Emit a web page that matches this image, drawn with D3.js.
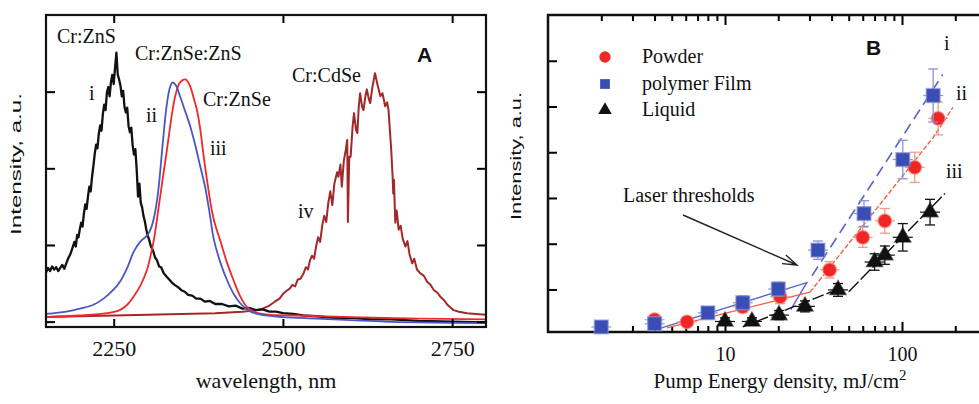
<!DOCTYPE html>
<html>
<head>
<meta charset="utf-8">
<script src="https://cdn.jsdelivr.net/npm/d3@7"></script>
<style>
body { margin: 0; background: #fff; }
svg { display: block; }
</style>
</head>
<body>
<div id="chart"></div>
<script>
// ---- panel A : emission spectra [wavelength nm, intensity a.u.] ----
var znsSpectrum = [[2150,.64],[2153,.70],[2156,.66],[2159,.72],[2162,.68],[2165,.71],[2168,.66],[2171,.70],[2174,.74],[2177,.69],[2180,.76],[2183,.83],[2186,.88],[2189,.96],[2192,1.04],[2194,.98],[2196,1.13],[2198,1.10],[2200,1.21],[2202,1.29],[2204,1.24],[2206,1.41],[2208,1.53],[2210,1.47],[2212,1.63],[2214,1.76],[2216,1.70],[2218,1.89],[2220,2.03],[2222,2.19],[2224,2.31],[2226,2.26],[2228,2.45],[2230,2.56],[2232,2.49],[2234,2.71],[2236,2.83],[2238,2.76],[2240,2.99],[2242,3.06],[2244,2.94],[2246,3.13],[2248,3.22],[2250,3.10],[2252,3.31],[2254,3.51],[2256,3.22],[2258,3.16],[2260,3.08],[2262,2.94],[2264,3.01],[2266,2.80],[2268,2.73],[2270,2.79],[2272,2.55],[2274,2.47],[2276,2.53],[2278,2.30],[2280,2.18],[2282,2.25],[2284,1.98],[2286,1.63],[2288,1.80],[2290,1.55],[2292,1.49],[2294,1.38],[2296,1.31],[2298,1.21],[2300,1.13],[2302,1.08],[2305,.98],[2308,.93],[2311,.84],[2314,.80],[2317,.72],[2320,.71],[2324,.63],[2328,.59],[2332,.55],[2336,.51],[2340,.48],[2345,.45],[2350,.41],[2355,.39],[2360,.35],[2366,.34],[2372,.30],[2378,.30],[2385,.26],[2392,.27],[2400,.23],[2410,.23],[2420,.20],[2430,.21],[2440,.17],[2450,.18],[2460,.15],[2470,.16],[2480,.13],[2490,.13],[2500,.11],[2515,.10],[2530,.08],[2550,.07],[2575,.05],[2600,.05],[2630,.03],[2660,.03],[2700,.01],[2750,.00],[2800,-.01]];

var znseznsSpectrum = [[2150,.10],[2180,.13],[2200,.17],[2220,.22],[2235,.30],[2250,.42],[2260,.53],[2270,.70],[2280,.92],[2290,1.05],[2300,1.13],[2306,1.24],[2311,1.42],[2316,1.72],[2322,2.28],[2328,2.80],[2333,3.05],[2337,3.12],[2342,3.08],[2348,2.94],[2355,2.76],[2363,2.55],[2370,2.32],[2378,2.02],[2385,1.76],[2392,1.40],[2398,1.07],[2408,.76],[2418,.53],[2428,.35],[2437,.24],[2450,.14],[2467,.09],[2500,.06],[2550,.04],[2600,.02],[2650,.00],[2700,-.01],[2800,-.02]];

var znseSpectrum = [[2150,.06],[2200,.08],[2240,.11],[2259,.15],[2270,.22],[2279,.32],[2290,.48],[2299,.67],[2305,.88],[2310,1.10],[2318,1.59],[2323,1.90],[2328,2.20],[2333,2.52],[2337,2.76],[2342,2.98],[2348,3.12],[2356,3.16],[2363,3.07],[2368,2.92],[2373,2.76],[2378,2.50],[2382,2.22],[2386,1.96],[2390,1.72],[2395,1.45],[2400,1.26],[2407,1.07],[2417,.78],[2427,.54],[2437,.33],[2447,.19],[2460,.12],[2477,.09],[2520,.08],[2600,.06],[2700,.04],[2800,.03]];

var cdseSpectrum = [[2150,.06],[2200,.07],[2250,.08],[2300,.09],[2350,.10],[2400,.11],[2440,.13],[2460,.15],[2470,.17],[2480,.21],[2488,.26],[2495,.30],[2500,.36],[2505,.40],[2510,.43],[2514,.48],[2518,.46],[2522,.55],[2526,.56],[2530,.62],[2534,.71],[2537,.68],[2540,.80],[2543,.86],[2546,.82],[2549,.98],[2552,1.10],[2555,1.04],[2558,1.25],[2561,1.38],[2564,1.30],[2567,1.55],[2570,1.70],[2573,1.52],[2576,1.80],[2580,1.95],[2582,1.89],[2585,2.05],[2587,1.76],[2590,2.10],[2593,2.25],[2595,2.37],[2596,1.30],[2598,2.15],[2600,2.15],[2603,2.55],[2605,2.72],[2608,2.50],[2610,2.46],[2612,2.80],[2614,2.98],[2617,2.80],[2619,2.76],[2622,2.95],[2624,3.03],[2627,2.90],[2629,2.85],[2632,3.05],[2636,3.24],[2640,3.08],[2644,2.94],[2647,2.98],[2649,2.90],[2651,2.81],[2654,2.86],[2656,2.76],[2658,2.50],[2660,2.24],[2662,1.90],[2663,1.67],[2664,1.85],[2666,1.29],[2668,1.45],[2671,1.20],[2674,1.25],[2677,1.08],[2681,.98],[2684,1.05],[2687,.88],[2691,.76],[2694,.82],[2698,.68],[2703,.63],[2708,.60],[2713,.52],[2718,.48],[2723,.41],[2728,.38],[2733,.32],[2738,.28],[2743,.22],[2748,.18],[2752,.15],[2760,.13],[2772,.11],[2785,.10],[2800,.09]];

var waveTicks = [2250, 2500, 2750];
var intensityTicksA = [0, 1, 2, 3];

// ---- panel B : output vs pump energy ----
var powderE   = [4, 6.1, 12.6, 20.5, 39, 60, 80, 118, 160];
var powderI   = [0.34, 0.29, 0.62, 0.84, 1.43, 2.14, 2.5, 3.67, 4.74];
var powderErr = [0.1, 0.1, 0.12, 0.15, 0.18, 0.22, 0.27, 0.33, 0.36];

var filmE   = [2, 4, 8, 12.6, 20, 33.5, 61, 101, 150];
var filmI   = [0.18, 0.25, 0.49, 0.71, 1.01, 1.86, 2.66, 3.84, 5.24];
var filmErr = [0.1, 0.1, 0.12, 0.15, 0.15, 0.2, 0.28, 0.42, 0.58];

var liquidE   = [10, 14.2, 20.2, 28.3, 43.5, 70, 80, 101, 144];
var liquidI   = [0.3, 0.3, 0.44, 0.63, 0.99, 1.6, 1.75, 2.14, 2.69];
var liquidErr = [0.08, 0.08, 0.1, 0.12, 0.14, 0.18, 0.2, 0.3, 0.28];

// threshold guide lines [energy, intensity]
var filmBelow   = [[4.2, 0.14], [29, 1.15], [23.5, 0.56]];
var filmAbove   = [[31, 1.3], [170, 5.7]];
var powderBelow = [[4.7, 0.16], [30.2, 0.94]];
var powderAbove = [[30.2, 0.94], [150, 4.32], [194, 4.98]];
var liquidBelow = [[12.6, 0.18], [40, 0.95]];
var liquidAbove = [[50, 0.95], [175, 3.1]];

var energyMajor = [10, 100];
var intensityTicksB = [1, 2, 3, 4, 5, 6];

var width = 979, height = 404;
var serifFont = 'Liberation Serif, Times New Roman, Times, DejaVu Serif, serif';
var sansFont = 'Liberation Sans, Arial, Helvetica, sans-serif';

var svg = d3.select('#chart').append('svg')
    .attr('width', width)
    .attr('height', height)
    .style('background', '#fff');

// ================= panel A =================
var xA = d3.scaleLinear().domain([2150, 2800]).range([46, 486]);
var yA = d3.scaleLinear().domain([-0.07, 4]).range([327, 15]);

var gA = svg.append('g');

gA.append('clipPath').attr('id', 'clipA')
    .append('rect')
    .attr('x', xA.range()[0]).attr('y', yA.range()[1])
    .attr('width', xA.range()[1] - xA.range()[0])
    .attr('height', yA.range()[0] - yA.range()[1]);

var lineA = d3.line().x(d => xA(d[0])).y(d => yA(d[1]));
var smoothA = d3.line().x(d => xA(d[0])).y(d => yA(d[1])).curve(d3.curveCatmullRom);

var spectra = [
    {data: cdseSpectrum, color: '#a3282a', w: 2, gen: lineA},
    {data: znsSpectrum, color: '#111', w: 2.3, gen: lineA},
    {data: znseSpectrum, color: '#f0282a', w: 1.8, gen: smoothA},
    {data: znseznsSpectrum, color: '#4a55c6', w: 1.8, gen: smoothA}
];

gA.append('g').attr('clip-path', 'url(#clipA)')
    .selectAll('path').data(spectra).enter()
    .append('path')
    .attr('d', s => s.gen(s.data))
    .attr('fill', 'none')
    .attr('stroke', s => s.color)
    .attr('stroke-width', s => s.w)
    .attr('stroke-linejoin', 'round');

// ticks (inward) on all four sides
gA.append('g').attr('transform', `translate(0,${yA.range()[0]})`)
    .call(d3.axisBottom(xA).tickValues(waveTicks).tickSizeInner(-8).tickSizeOuter(0).tickPadding(13).tickFormat(d3.format('d')))
    .call(g => g.select('.domain').remove())
    .call(g => g.selectAll('line').attr('stroke-width', 2))
    .call(g => g.selectAll('text').attr('fill', '#111')
        .style('font-family', serifFont).style('font-size', '22px'));
gA.append('g').attr('transform', `translate(0,${yA.range()[1]})`)
    .call(d3.axisTop(xA).tickValues(waveTicks).tickSizeInner(-8).tickSizeOuter(0).tickFormat(''))
    .call(g => g.select('.domain').remove())
    .call(g => g.selectAll('line').attr('stroke-width', 2));
gA.append('g').attr('transform', `translate(${xA.range()[0]},0)`)
    .call(d3.axisLeft(yA).tickValues(intensityTicksA).tickSizeInner(-9).tickSizeOuter(0).tickFormat(''))
    .call(g => g.select('.domain').remove())
    .call(g => g.selectAll('line').attr('stroke-width', 2));
gA.append('g').attr('transform', `translate(${xA.range()[1]},0)`)
    .call(d3.axisRight(yA).tickValues(intensityTicksA).tickSizeInner(-9).tickSizeOuter(0).tickFormat(''))
    .call(g => g.select('.domain').remove())
    .call(g => g.selectAll('line').attr('stroke-width', 2));

gA.append('rect')
    .attr('x', xA.range()[0]).attr('y', yA.range()[1])
    .attr('width', xA.range()[1] - xA.range()[0])
    .attr('height', yA.range()[0] - yA.range()[1])
    .attr('fill', 'none').attr('stroke', '#111').attr('stroke-width', 2.2);

gA.append('text')
    .attr('x', 266).attr('y', 388)
    .attr('text-anchor', 'middle').attr('fill', '#111')
    .style('font-family', serifFont).style('font-size', '22px')
    .text('wavelength, nm');

gA.append('text')
    .attr('transform', 'translate(21,164)rotate(-90)')
    .attr('text-anchor', 'middle').attr('fill', '#111')
    .style('font-family', sansFont).style('font-size', '15px')
    .attr('textLength', 142).attr('lengthAdjust', 'spacingAndGlyphs')
    .text('Intensity, a.u.');

var labelsA = [
    {t: 'Cr:ZnS', x: 57, y: 43},
    {t: 'Cr:ZnSe:ZnS', x: 135, y: 60},
    {t: 'Cr:ZnSe', x: 203, y: 106},
    {t: 'Cr:CdSe', x: 292, y: 82},
    {t: 'i', x: 89, y: 100},
    {t: 'ii', x: 146, y: 122},
    {t: 'iii', x: 210, y: 155},
    {t: 'iv', x: 298, y: 218}
];
gA.selectAll('text.lab').data(labelsA).enter()
    .append('text').attr('class', 'lab')
    .attr('x', d => d.x).attr('y', d => d.y)
    .attr('fill', '#111')
    .style('font-family', serifFont).style('font-size', '20px')
    .text(d => d.t);

gA.append('text')
    .attr('x', 417).attr('y', 62)
    .attr('font-weight', 'bold').attr('fill', '#111')
    .style('font-family', sansFont).style('font-size', '21px')
    .text('A');

// ================= panel B =================
var xB = d3.scaleLog().domain([1, 1000]).range([548, 1079]);
var yB = d3.scaleLinear().domain([0.07, 7]).range([332, 15]);

var gB = svg.append('g');

var minorE = [];
[1, 10, 100].forEach(function (dec) {
    for (var k = 2; k <= 9; k++) minorE.push(dec * k);
});

function tickRow(y, dir) {
    var axisFn = dir > 0 ? d3.axisBottom : d3.axisTop;
    gB.append('g').attr('transform', `translate(0,${y})`)
        .call(axisFn(xB).tickValues(minorE).tickSizeInner(-6).tickSizeOuter(0).tickFormat(''))
        .call(g => g.select('.domain').remove())
        .call(g => g.selectAll('line').attr('stroke-width', 2));
    gB.append('g').attr('transform', `translate(0,${y})`)
        .call(axisFn(xB).tickValues(energyMajor).tickSizeInner(-10).tickSizeOuter(0).tickPadding(15)
            .tickFormat(dir > 0 ? d3.format('d') : ''))
        .call(g => g.select('.domain').remove())
        .call(g => g.selectAll('line').attr('stroke-width', 2))
        .call(g => g.selectAll('text').attr('fill', '#111')
            .style('font-family', serifFont).style('font-size', '20px'));
}
tickRow(yB.range()[0], 1);
tickRow(yB.range()[1], -1);

gB.append('g').attr('transform', `translate(${xB.range()[0]},0)`)
    .call(d3.axisLeft(yB).tickValues(intensityTicksB).tickSizeInner(-9).tickSizeOuter(0).tickFormat(''))
    .call(g => g.select('.domain').remove())
    .call(g => g.selectAll('line').attr('stroke-width', 2));

gB.append('path')
    .attr('d', `M${xB.range()[1]},${yB.range()[1]}H${xB.range()[0]}V${yB.range()[0]}H${xB.range()[1]}`)
    .attr('fill', 'none').attr('stroke', '#111').attr('stroke-width', 2.5);

var lineB = d3.line().x(d => xB(d[0])).y(d => yB(d[1]));

var guides = [
    {d: filmBelow, c: '#5a66d0', dash: null, w: 1.4},
    {d: filmAbove, c: '#5a66d0', dash: '11,6', w: 1.6},
    {d: powderBelow, c: '#f25a3a', dash: null, w: 1.2},
    {d: powderAbove, c: '#f25a3a', dash: '5,2', w: 1.3},
    {d: liquidBelow, c: '#111', dash: '12,3', w: 1.4},
    {d: liquidAbove, c: '#111', dash: '14,3', w: 1.4}
];
gB.selectAll('path.guide').data(guides).enter()
    .append('path').attr('class', 'guide')
    .attr('d', g => lineB(g.d))
    .attr('fill', 'none')
    .attr('stroke', g => g.c)
    .attr('stroke-width', g => g.w)
    .attr('stroke-dasharray', g => g.dash);

function toPoints(E, I, err) {
    return E.map((e, i) => ({e: e, v: I[i], err: err[i]}));
}

var seriesB = [
    {name: 'Powder', pts: toPoints(powderE, powderI, powderErr), fill: '#ee2626', bar: '#f39a8a', shape: d3.symbolCircle, size: 150},
    {name: 'polymer Film', pts: toPoints(filmE, filmI, filmErr), fill: '#3a4db2', bar: '#8a94dc', shape: d3.symbolSquare, size: 190},
    {name: 'Liquid', pts: toPoints(liquidE, liquidI, liquidErr), fill: '#111', bar: '#111', shape: d3.symbolTriangle, size: 110}
];

// draw order: powder, film, liquid
seriesB.forEach(function (s) {
    var g = gB.append('g');
    var pt = g.selectAll('g').data(s.pts).enter().append('g');
    pt.append('line')
        .attr('x1', d => xB(d.e)).attr('x2', d => xB(d.e))
        .attr('y1', d => yB(d.v - d.err)).attr('y2', d => yB(d.v + d.err))
        .attr('stroke', s.bar).attr('stroke-width', 1.3);
    [-1, 1].forEach(function (sg) {
        pt.append('line')
            .attr('x1', d => xB(d.e) - 5).attr('x2', d => xB(d.e) + 5)
            .attr('y1', d => yB(d.v + sg * d.err)).attr('y2', d => yB(d.v + sg * d.err))
            .attr('stroke', s.bar).attr('stroke-width', 1.3);
    });
    pt.append('line')
        .attr('x1', d => xB(d.e) - 10).attr('x2', d => xB(d.e) + 10)
        .attr('y1', d => yB(d.v)).attr('y2', d => yB(d.v))
        .attr('stroke', s.bar).attr('stroke-width', 1.2);
    pt.append('path')
        .attr('d', d3.symbol().type(s.shape).size(s.size))
        .attr('transform', d => `translate(${xB(d.e)},${yB(d.v)})`)
        .attr('fill', s.fill)
        .attr('stroke', s.bar).attr('stroke-width', 1.5).attr('stroke-opacity', 0.6);
});

// legend
var legend = gB.append('g');
var legendRows = [
    {s: seriesB[0], y: 57, size: 100},
    {s: seriesB[1], y: 84, size: 95},
    {s: seriesB[2], y: 110, size: 80}
];
legendRows.forEach(function (r) {
    legend.append('path')
        .attr('d', d3.symbol().type(r.s.shape).size(r.size))
        .attr('transform', `translate(605,${r.y})`)
        .attr('fill', r.s.fill);
    legend.append('text')
        .attr('x', 642).attr('y', r.y + 6)
        .attr('fill', '#111')
        .style('font-family', serifFont).style('font-size', '20px')
        .text(r.s.name);
});

var labelsB = [
    {t: 'i', x: 944, y: 50},
    {t: 'ii', x: 956, y: 100},
    {t: 'iii', x: 946, y: 178},
    {t: 'Laser thresholds', x: 623, y: 202}
];
gB.selectAll('text.lab').data(labelsB).enter()
    .append('text').attr('class', 'lab')
    .attr('x', d => d.x).attr('y', d => d.y)
    .attr('fill', '#111')
    .style('font-family', serifFont).style('font-size', '20px')
    .text(d => d.t);

gB.append('text')
    .attr('x', 866).attr('y', 55)
    .attr('font-weight', 'bold').attr('fill', '#111')
    .style('font-family', sansFont).style('font-size', '21px')
    .text('B');

// arrow to threshold
var a0 = [683, 215], a1 = [797, 265];
var ang = Math.atan2(a1[1] - a0[1], a1[0] - a0[0]);
var hl = 15, ha = 0.32;
gB.append('path')
    .attr('d', `M${a0[0]},${a0[1]}L${a1[0]},${a1[1]}` +
        `M${a1[0] - hl * Math.cos(ang - ha)},${a1[1] - hl * Math.sin(ang - ha)}L${a1[0]},${a1[1]}` +
        `L${a1[0] - hl * Math.cos(ang + ha)},${a1[1] - hl * Math.sin(ang + ha)}`)
    .attr('fill', 'none').attr('stroke', '#222').attr('stroke-width', 1.4);

gB.append('text')
    .attr('transform', 'translate(521,156)rotate(-90)')
    .attr('text-anchor', 'middle').attr('fill', '#111')
    .style('font-family', sansFont).style('font-size', '15px')
    .attr('textLength', 128).attr('lengthAdjust', 'spacingAndGlyphs')
    .text('Intensity, a.u.');

var xLab = gB.append('text')
    .attr('x', 780).attr('y', 388)
    .attr('text-anchor', 'middle').attr('fill', '#111')
    .style('font-family', serifFont).style('font-size', '21px');
xLab.append('tspan').text('Pump Energy density, mJ/cm');
xLab.append('tspan').attr('dy', -8).style('font-size', '15px').text('2');
</script>
</body>
</html>
